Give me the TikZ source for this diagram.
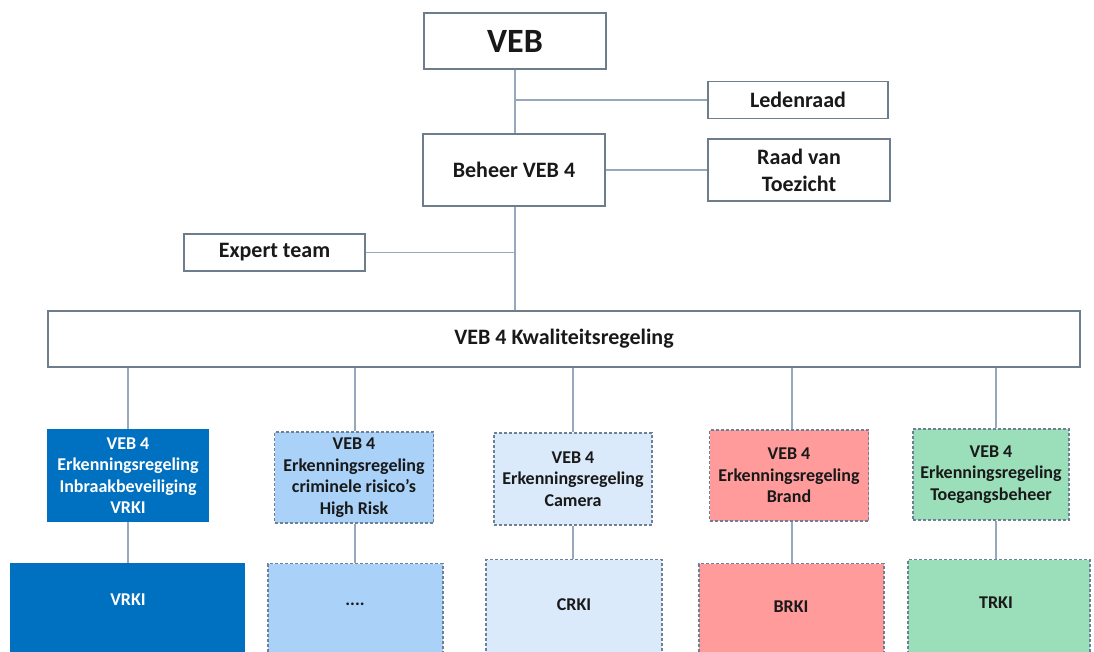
\documentclass[tikz,border=0pt]{standalone}
\usepackage{fontspec}
\setmainfont{Carlito}
\definecolor{bordc}{RGB}{110,125,140}
\definecolor{linec}{RGB}{150,168,188}
\definecolor{dashc}{RGB}{110,128,150}
\definecolor{darkblue}{RGB}{0,112,192}
\definecolor{midblue}{RGB}{170,210,248}
\definecolor{paleblue}{RGB}{218,234,250}
\definecolor{salmon}{RGB}{255,155,155}
\definecolor{mint}{RGB}{155,222,186}
\definecolor{txt}{RGB}{25,25,25}
\tikzset{
  topbox/.style={draw=bordc, line width=1.2pt, fill=white, inner sep=0pt, align=center,
    font=\fontsize{22}{27}\selectfont\bfseries, text=txt},
  lowbox/.style={line width=1.1pt, inner sep=0pt, align=center,
    font=\fontsize{18}{21.5}\selectfont\bfseries, text=txt},
  dashbox/.style={lowbox, draw=dashc, dash pattern=on 3pt off 2pt},
  lbl/.style={inner sep=0pt, font=\fontsize{18}{21.5}\selectfont\bfseries, text=txt},
  conn/.style={draw=linec, line width=1.3pt}
}
\begin{document}
\begin{tikzpicture}[x=1pt,y=-1pt]
\useasboundingbox (0,0) rectangle (1094,651);
% top part
\node[topbox, minimum width=182, minimum height=56, font=\fontsize{34}{40}\selectfont\bfseries] (veb) at (515,41) {VEB};
\node[topbox, minimum width=180, minimum height=37] (leden) at (798,100) {Ledenraad};
\node[topbox, minimum width=182, minimum height=72] (beheer) at (514,170) {Beheer VEB 4};
\node[topbox, minimum width=182, minimum height=62] (raad) at (799,170) {Raad van\\Toezicht};
\node[topbox, minimum width=181, minimum height=37] (expert) at (274.5,252.5) {Expert team};
\node[topbox, minimum width=1032, minimum height=56] (kwal) at (564,339) {VEB 4 Kwaliteitsregeling};
\coordinate (j1) at (515,100);
\coordinate (j2) at (515,252.5);
\draw[conn] (veb.south -| j1) -- (beheer.north -| j1);
\draw[conn] (j1) -- (leden.west);
\draw[conn] (beheer.east) -- (raad.west);
\draw[conn] (beheer.south -| j2) -- (kwal.north -| j2);
\draw[conn] (expert.east) -- (j2);
% lower boxes (second row)
\node[lowbox, fill=darkblue, draw=darkblue, text=white, minimum width=160, minimum height=91] (s1) at (128,475.5)
  {VEB 4\\Erkenningsregeling\\Inbraakbeveiliging\\VRKI};
\node[dashbox, fill=midblue, minimum width=159, minimum height=91] (s2) at (354,477.5)
  {VEB 4\\Erkenningsregeling\\criminele risico’s\\High Risk};
\node[dashbox, fill=paleblue, minimum width=158, minimum height=92] (s3) at (573,479)
  {VEB 4\\Erkenningsregeling\\Camera};
\node[dashbox, fill=salmon, minimum width=159, minimum height=91] (s4) at (789,475.5)
  {VEB 4\\Erkenningsregeling\\Brand};
\node[dashbox, fill=mint, minimum width=156, minimum height=91] (s5) at (991,474.5)
  {VEB 4\\Erkenningsregeling\\Toegangsbeheer};
% bottom boxes (extend beyond the page)
\node[lowbox, fill=darkblue, draw=darkblue, minimum width=233, minimum height=140, anchor=north] (b1) at (127.5,563) {};
\node[dashbox, fill=midblue, minimum width=175, minimum height=140, anchor=north] (b2) at (355.5,563) {};
\node[dashbox, fill=paleblue, minimum width=176, minimum height=140, anchor=north] (b3) at (574,559) {};
\node[dashbox, fill=salmon, minimum width=185, minimum height=140, anchor=north] (b4) at (791.5,563) {};
\node[dashbox, fill=mint, minimum width=182, minimum height=140, anchor=north] (b5) at (999,559) {};
\node[lbl, text=white] (t1) at (128,600) {VRKI};
\node[lbl] (t2) at (355,604) {....};
\node[lbl] (t3) at (574,605) {CRKI};
\node[lbl] (t4) at (791,607) {BRKI};
\node[lbl] (t5) at (996,603) {TRKI};
% connectors
\foreach \i/\x in {1/128,2/355,3/573,4/792,5/996}{
  \draw[conn] (kwal.south -| \x,0) -- (s\i.north -| \x,0);
  \draw[conn] (s\i.south -| \x,0) -- (b\i.north -| \x,0);
}
\end{tikzpicture}
\end{document}
